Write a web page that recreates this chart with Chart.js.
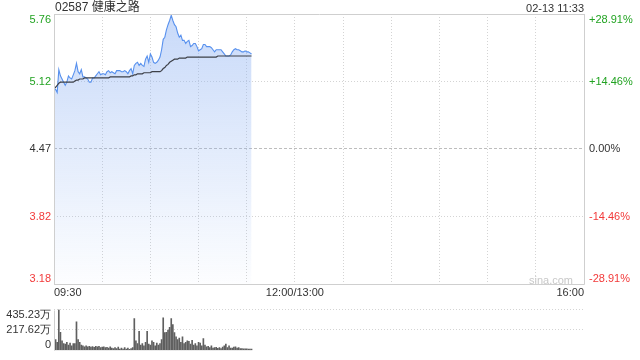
<!DOCTYPE html>
<html>
<head>
<meta charset="utf-8">
<script src="https://cdn.jsdelivr.net/npm/chart.js@4.4.1/dist/chart.umd.min.js"></script>
<style>
    html, body { margin: 0; padding: 0; background: #fff; }
    #wrap { position: relative; width: 640px; height: 360px; font-family: "Liberation Sans", Arial, "Noto Sans CJK SC", sans-serif; }
    #price-chart { position: absolute; left: 0; top: 0; }
    #vol-chart { position: absolute; left: 0; top: 300px; }
    .txt { position: absolute; color: #333; white-space: nowrap; line-height: 14px; }
</style>
</head>
<body>
<div id="wrap">
    <canvas id="price-chart" width="640" height="300"></canvas>
    <canvas id="vol-chart" width="640" height="60"></canvas>
    <div class="txt" style="left:55px; top:0px; font-size:12px;">02587 健康之路</div>
    <div class="txt" style="right:56px; top:1px; font-size:11px;">02-13 11:33</div>
    <div class="txt" style="right:67px; top:273px; font-size:11px; color:#c8c8c8;">sina.com</div>
</div>
<script>
// 昨收 与 涨跌幅刻度
const prevClose = 4.47;
const pctTicks = [-28.91, -14.46, 0, 14.46, 28.91];

// 时间轴 (分钟, 09:30 起, 午休合并)
const xGridMinutes = [0, 30, 60, 90, 120, 150, 180, 210, 240, 270, 300, 330];
const xLabelMinutes = [0, 150, 330];
const xLabelTexts = ['09:30', '12:00/13:00', '16:00'];

// 分时价格 09:30 - 11:33
const price = [
    5.05, 5.04, 5.01, 5.23, 5.17, 5.14, 5.11, 5.08, 5.11, 5.17,
    5.15, 5.14, 5.18, 5.22, 5.29, 5.21, 5.19, 5.23, 5.16, 5.16,
    5.15, 5.14, 5.11, 5.11, 5.15, 5.15, 5.17, 5.19, 5.21, 5.18,
    5.19, 5.19, 5.18, 5.21, 5.22, 5.20, 5.21, 5.20, 5.19, 5.22,
    5.22, 5.22, 5.21, 5.21, 5.22, 5.21, 5.19, 5.22, 5.24, 5.19,
    5.27, 5.29, 5.30, 5.27, 5.29, 5.27, 5.26, 5.33, 5.36, 5.30,
    5.38, 5.35, 5.30, 5.29, 5.30, 5.32, 5.35, 5.42, 5.52, 5.54,
    5.61, 5.66, 5.70, 5.75, 5.70, 5.66, 5.64, 5.58, 5.54, 5.56,
    5.51, 5.51, 5.48, 5.50, 5.51, 5.45, 5.46, 5.48, 5.48, 5.45,
    5.41, 5.42, 5.43, 5.47, 5.47, 5.45, 5.45, 5.45, 5.44, 5.42,
    5.40, 5.42, 5.42, 5.42, 5.42, 5.40, 5.38, 5.36, 5.36, 5.36,
    5.37, 5.40, 5.42, 5.43, 5.42, 5.42, 5.41, 5.40, 5.40, 5.41,
    5.40, 5.40, 5.39, 5.38
];

// 均价
const avgPrice = [
    5.05, 5.06, 5.08, 5.10, 5.11, 5.11, 5.11, 5.11, 5.11, 5.11,
    5.11, 5.11, 5.11, 5.12, 5.13, 5.13, 5.14, 5.14, 5.14, 5.15,
    5.15, 5.15, 5.15, 5.15, 5.15, 5.15, 5.15, 5.15, 5.15, 5.15,
    5.15, 5.15, 5.15, 5.15, 5.15, 5.16, 5.16, 5.16, 5.16, 5.16,
    5.16, 5.16, 5.16, 5.16, 5.16, 5.16, 5.16, 5.16, 5.17, 5.17,
    5.18, 5.18, 5.19, 5.19, 5.19, 5.19, 5.20, 5.20, 5.20, 5.20,
    5.20, 5.21, 5.21, 5.21, 5.21, 5.21, 5.21, 5.22, 5.24, 5.25,
    5.27, 5.28, 5.30, 5.31, 5.32, 5.33, 5.33, 5.33, 5.34, 5.34,
    5.34, 5.34, 5.34, 5.35, 5.35, 5.35, 5.35, 5.35, 5.35, 5.35,
    5.35, 5.35, 5.35, 5.35, 5.35, 5.35, 5.35, 5.35, 5.35, 5.35,
    5.35, 5.35, 5.36, 5.36, 5.36, 5.36, 5.36, 5.36, 5.36, 5.36,
    5.36, 5.36, 5.36, 5.36, 5.36, 5.36, 5.36, 5.36, 5.36, 5.36,
    5.36, 5.36, 5.36, 5.36
];

// 成交量 (万股)
const volume = [
    275, 116, 87, 435.23, 194, 101, 72, 67, 87, 58,
    78, 49, 72, 72, 305, 116, 87, 58, 49, 38,
    49, 38, 44, 35, 41, 32, 44, 38, 44, 29,
    35, 38, 29, 32, 26, 38, 26, 20, 29, 20,
    35, 15, 26, 15, 29, 15, 26, 12, 20, 29,
    340, 101, 72, 203, 58, 72, 49, 87, 203, 67,
    58, 101, 87, 49, 78, 58, 72, 116, 348, 189,
    194, 218, 247, 340, 276, 189, 145, 116, 131, 87,
    145, 72, 87, 101, 96, 67, 107, 58, 72, 49,
    87, 78, 49, 125, 58, 38, 44, 29, 49, 26,
    29, 32, 23, 29, 20, 35, 49, 67, 29, 49,
    26, 26, 35, 38, 26, 29, 20, 20, 17, 17,
    17, 15, 15, 15
];
const volTicks = [0, 217.62, 435.23];

const GREEN = '#22a322';
const RED = '#f23a3a';
const TEXT = '#333';
const GRID = '#d4d4d4';
const FRAME = '#cfcfcf';

Chart.defaults.font.family = '"Liberation Sans", Arial, sans-serif';
Chart.defaults.font.size = 11;
Chart.defaults.animation = false;

const priceMin = prevClose * (1 + pctTicks[0] / 100);
const priceMax = prevClose * (1 + pctTicks[pctTicks.length - 1] / 100);

// 第一个和最后一个刻度标签贴边
const edgeLabels = {
    id: 'edgeLabels',
    beforeDraw(chart) {
        Object.values(chart.scales).forEach(scale => {
            if (!scale.options.display || !scale.options.ticks.display) return;
            const items = scale.getLabelItems().filter(it => it.label !== '');
            if (items.length < 2) return;
            if (scale.isHorizontal()) {
                items[0].options.textAlign = 'left';
                items[items.length - 1].options.textAlign = 'right';
            } else {
                items[0].options.textBaseline = 'bottom';
                items[items.length - 1].options.textBaseline = 'top';
            }
        });
    }
};

const frame = {
    id: 'frame',
    afterDatasetsDraw(chart, args, opts) {
        const { ctx, chartArea: a } = chart;
        ctx.save();
        ctx.strokeStyle = FRAME;
        ctx.lineWidth = 1;
        ctx.beginPath();
        const l = Math.round(a.left) + 0.5, r = Math.round(a.right) + 0.5;
        const t = Math.round(a.top) + 0.5, b = Math.round(a.bottom) + 0.5;
        if (opts.all) {
            ctx.rect(l, t, r - l, b - t);
        } else {
            ctx.moveTo(l, t); ctx.lineTo(l, b);
        }
        ctx.stroke();
        ctx.restore();
    }
};

// 分时图
new Chart(document.getElementById('price-chart').getContext('2d'), {
    type: 'line',
    data: {
        datasets: [
            {
                label: '均价',
                data: avgPrice.map((p, i) => ({ x: i, y: p })),
                borderColor: '#3d4048',
                borderWidth: 1.2,
                pointRadius: 0,
                fill: false,
                order: 0
            },
            {
                label: '价格',
                data: price.map((p, i) => ({ x: i, y: p })),
                borderColor: '#5891ee',
                borderWidth: 1.1,
                pointRadius: 0,
                fill: 'start',
                backgroundColor(ctx) {
                    const a = ctx.chart.chartArea;
                    if (!a) return 'rgba(145,180,243,0.3)';
                    const g = ctx.chart.ctx.createLinearGradient(0, a.top, 0, a.bottom);
                    g.addColorStop(0, 'rgba(145,180,243,0.5)');
                    g.addColorStop(1, 'rgba(145,180,243,0.02)');
                    return g;
                },
                order: 1
            }
        ]
    },
    options: {
        responsive: false,
        layout: { padding: { top: 14, bottom: 0, left: 0, right: 0 } },
        plugins: { legend: { display: false }, tooltip: { enabled: false }, frame: { all: true } },
        scales: {
            x: {
                type: 'linear',
                min: 0,
                max: 330,
                afterBuildTicks: s => { s.ticks = xGridMinutes.map(v => ({ value: v })); },
                afterFit: s => { s.height = 16; },
                ticks: {
                    autoSkip: false,
                    maxRotation: 0,
                    padding: 2,
                    color: TEXT,
                    callback: v => {
                        const k = xLabelMinutes.indexOf(v);
                        return k >= 0 ? xLabelTexts[k] : '';
                    }
                },
                grid: { color: GRID, drawTicks: false },
                border: { display: false, dash: [1, 2] }
            },
            y: {
                position: 'left',
                min: priceMin,
                max: priceMax,
                afterBuildTicks: s => { s.ticks = pctTicks.map(p => ({ value: prevClose * (1 + p / 100) })); },
                afterFit: s => { s.width = 54; },
                ticks: {
                    padding: 3,
                    callback: v => v.toFixed(2),
                    color: ctx => pctTicks[ctx.index] > 0 ? GREEN : (pctTicks[ctx.index] < 0 ? RED : TEXT)
                },
                grid: {
                    drawTicks: false,
                    color: ctx => pctTicks[ctx.index] === 0 ? '#bdbdbd' : GRID
                },
                border: { display: false, dash: ctx => pctTicks[ctx.index] === 0 ? [3, 2] : [1, 2] }
            },
            yPct: {
                position: 'right',
                min: pctTicks[0],
                max: pctTicks[pctTicks.length - 1],
                afterBuildTicks: s => { s.ticks = pctTicks.map(p => ({ value: p })); },
                afterFit: s => { s.width = 56; },
                ticks: {
                    padding: 5,
                    callback: v => (v > 0 ? '+' : '') + v.toFixed(2) + '%',
                    color: ctx => pctTicks[ctx.index] > 0 ? GREEN : (pctTicks[ctx.index] < 0 ? RED : TEXT)
                },
                grid: { display: false, drawTicks: false },
                border: { display: false }
            }
        }
    },
    plugins: [edgeLabels, frame]
});

// 成交量
new Chart(document.getElementById('vol-chart').getContext('2d'), {
    type: 'bar',
    data: {
        datasets: [{
            label: '成交量',
            data: volume.map((v, i) => ({ x: i, y: v })),
            backgroundColor: '#5f5f5f',
            barThickness: 1,
            grouped: false
        }]
    },
    options: {
        responsive: false,
        layout: { padding: { top: 5, bottom: 6, left: 0, right: 56 } },
        plugins: { legend: { display: false }, tooltip: { enabled: false }, frame: { all: false } },
        scales: {
            x: { type: 'linear', min: 0, max: 330, offset: false, display: false },
            y: {
                min: 0,
                max: volTicks[volTicks.length - 1],
                afterBuildTicks: s => { s.ticks = volTicks.map(v => ({ value: v })); },
                afterFit: s => { s.width = 54; },
                ticks: {
                    padding: 3,
                    color: TEXT,
                    callback: v => v === 0 ? '0' : v.toFixed(2) + '万'
                },
                grid: { drawTicks: false, color: ctx => ctx.index === 0 ? 'rgba(0,0,0,0)' : GRID },
                border: { display: false, dash: [1, 2] }
            }
        }
    },
    plugins: [edgeLabels, frame]
});
</script>
</body>
</html>
